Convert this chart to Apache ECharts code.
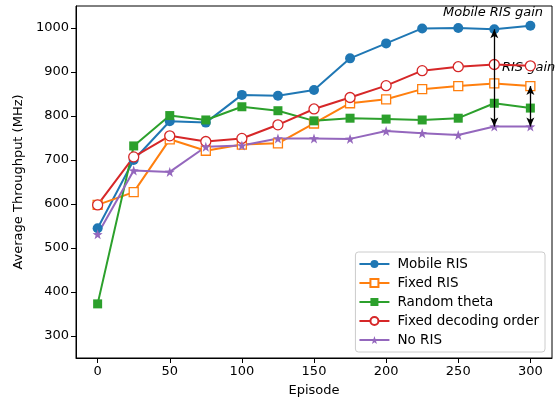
<!DOCTYPE html>
<html><head><meta charset="utf-8">
<script src="https://cdn.jsdelivr.net/npm/echarts@6/dist/echarts.min.js"></script>
<style>html,body{margin:0;padding:0;background:#fff}#c{width:558px;height:402px}</style>
</head><body><div id="c"></div>
<script>
const episodes = [0,25,50,75,100,125,150,175,200,225,250,275,300];
const mobileRIS = [545,700,788,785,848,846,859,931,965,999,1000,997,1005];
const fixedRIS = [598,627,747,721,735,738,783,829,838,861,868,874,868];
const randomTheta = [373,732,801,791,821,812,789,795,793,791,795,829,818];
const fixedDecoding = [598,707,755,742,749,780,816,842,869,903,912,917,914];
const noRIS = [531,676,673,730,733,749,749,748,766,761,757,776,776];
const xTicks = [0,50,100,150,200,250,300];
const yTicks = [300,400,500,600,700,800,900,1000];
const names = ['Mobile RIS','Fixed RIS','Random theta','Fixed decoding order','No RIS'];

const star = 'path://M0,-10 L2.35,-3.24 9.51,-3.09 3.8,1.24 5.88,8.09 0,4 -5.88,8.09 -3.8,1.24 -9.51,-3.09 -2.35,-3.24Z';
const font = 'DejaVu Sans';
function mk(name, data, color, symbol, size, empty) {
  return {
    name, type:'line', data: episodes.map((e,i)=>[e,data[i]]),
    symbol, symbolSize:size, showAllSymbol:true,
    lineStyle:{color, width:2},
    itemStyle:{color: empty ? '#fff' : color, borderColor:color, borderWidth: empty?1.3:0},
    emphasis:{disabled:true}, animation:false, z:3
  };
}
const series = [
  mk(names[0], mobileRIS, '#1f77b4', 'circle', 10, false),
  mk(names[1], fixedRIS, '#ff7f0e', 'rect', 9, true),
  mk(names[2], randomTheta, '#2ca02c', 'rect', 9, false),
  mk(names[3], fixedDecoding, '#d62728', 'circle', 10, true),
  mk(names[4], noRIS, '#9467bd', star, 10, false),
];
const i275 = episodes.indexOf(275), i300 = episodes.indexOf(300);
series[4].markLine = {
  silent:true, animation:false, symbol:['arrow','arrow'], symbolSize:[6,9],
  lineStyle:{color:'#000', width:1.3, type:'solid'}, label:{show:false},
  data:[
    [{coord:[275, noRIS[i275]]},{coord:[275, mobileRIS[i275]]}],
    [{coord:[300, noRIS[i300]]},{coord:[300, fixedRIS[i300]]}]
  ]
};
const chart = echarts.init(document.getElementById('c'));
chart.setOption({
  backgroundColor:'#fff',
  textStyle:{fontFamily:font},
  grid:{left:76,right:6,top:6,bottom:44,show:true,borderColor:'#000',borderWidth:1},
  xAxis:{type:'value',min:-15,max:315,
    name:'Episode',nameLocation:'middle',nameGap:26,nameTextStyle:{fontSize:13,color:'#000',fontFamily:font},
    axisLine:{show:true,onZero:false,lineStyle:{color:'#000'}},
    axisTick:{show:true,length:5,lineStyle:{color:'#000'},customValues:xTicks},
    axisLabel:{color:'#000',fontSize:13,margin:7,customValues:xTicks,fontFamily:font,formatter:v=>String(v)},
    splitLine:{show:false}},
  yAxis:{type:'value',min:250,max:1050,
    name:'Average Throughput (MHz)',nameLocation:'middle',nameGap:46,nameTextStyle:{fontSize:13,color:'#000',fontFamily:font},
    axisLine:{show:true,onZero:false,lineStyle:{color:'#000'}},
    axisTick:{show:true,length:5,lineStyle:{color:'#000'},customValues:yTicks},
    axisLabel:{color:'#000',fontSize:13,margin:7,customValues:yTicks,fontFamily:font,formatter:v=>String(v)},
    splitLine:{show:false}},
  legend:{data:names,orient:'vertical',right:13,bottom:50,itemWidth:30,itemHeight:10,itemGap:5,
    backgroundColor:'rgba(255,255,255,0.8)',borderColor:'#ccc',borderWidth:1,borderRadius:3,
    padding:[5,6,5,3],textStyle:{fontSize:13.5,color:'#000',fontFamily:font,padding:[0,0,0,3]},selectedMode:false},
  graphic:[
    {type:'text',left:443,top:6,style:{text:'Mobile RIS gain',fontSize:13,fontStyle:'italic',fontFamily:font,fill:'#000'}},
    {type:'text',left:502,top:61,style:{text:'RIS gain',fontSize:13,fontStyle:'italic',fontFamily:font,fill:'#000'}}
  ],
  series
});
</script></body></html>
